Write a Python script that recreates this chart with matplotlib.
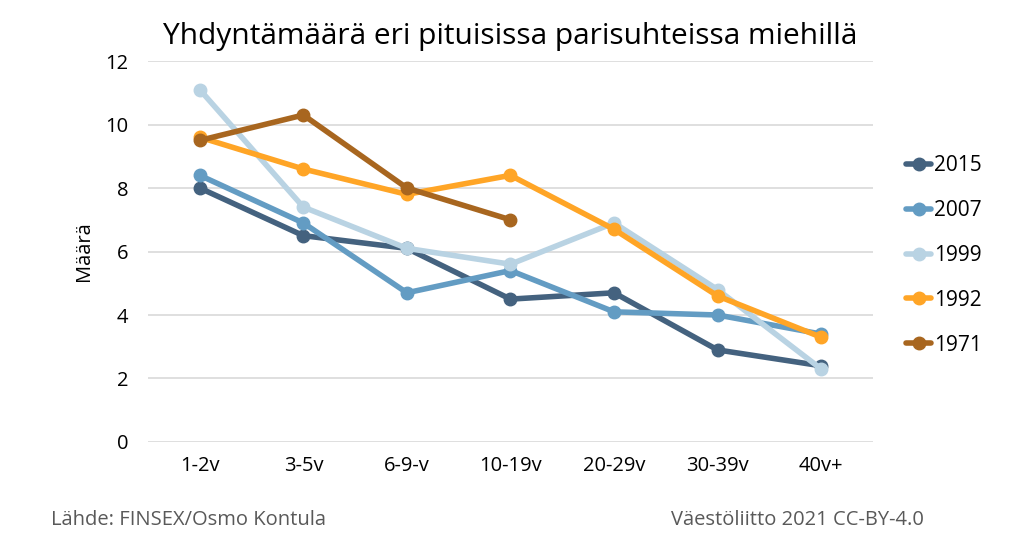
import matplotlib.pyplot as plt

# categories (relationship length)
categories = ["1-2v", "3-5v", "6-9-v", "10-19v", "20-29v", "30-39v", "40v+"]

# values per survey year
y2015 = [8.0, 6.5, 6.1, 4.5, 4.7, 2.9, 2.4]
y2007 = [8.4, 6.9, 4.7, 5.4, 4.1, 4.0, 3.4]
y1999 = [11.1, 7.4, 6.1, 5.6, 6.9, 4.8, 2.3]
y1992 = [9.6, 8.6, 7.8, 8.4, 6.7, 4.6, 3.3]
y1971 = [9.5, 10.3, 8.0, 7.0]

series = [("2015", y2015, "#44627f"),
          ("2007", y2007, "#639cc3"),
          ("1999", y1999, "#b9d3e3"),
          ("1992", y1992, "#ffa526"),
          ("1971", y1971, "#a8661f")]

plt.rcParams['font.family'] = ['Open Sans', 'DejaVu Sans']

fig = plt.figure(figsize=(10.24, 5.5), dpi=100)
ax = fig.add_axes([0.1445, 0.1964, 0.708, 0.6926])

for name, vals, col in series:
    ax.plot(range(len(vals)), vals, color=col, lw=4, marker='o', ms=9,
            solid_capstyle='round', label=name)

ax.set_xlim(-0.5, 6.5)
ax.set_ylim(0, 12)
ax.set_yticks(range(0, 13, 2))
ax.set_xticks(range(len(categories)))
ax.set_xticklabels(categories)
ax.tick_params(length=0, labelsize=14.5, pad=14)
ax.tick_params(axis='x', pad=10)
ax.yaxis.grid(True, color='#d9d9d9', lw=1.2)
ax.set_axisbelow(True)
for s in ax.spines.values():
    s.set_visible(False)
ax.set_ylabel("Määrä", fontsize=14.5, labelpad=8)

ax.set_title("Yhdyntämäärä eri pituisissa parisuhteissa miehillä", fontsize=21.5, pad=12)

leg = ax.legend(loc='center left', bbox_to_anchor=(1.02, 0.49), frameon=False,
                fontsize=15, handlelength=1.2, handletextpad=0.15, labelspacing=1.15)

fig.text(0.05, 0.045, "Lähde: FINSEX/Osmo Kontula", fontsize=14.5, color='#595959')
fig.text(0.902, 0.045, "Väestöliitto 2021 CC-BY-4.0", fontsize=14.5, color='#595959', ha='right')

fig.savefig("out.png", dpi=100)
